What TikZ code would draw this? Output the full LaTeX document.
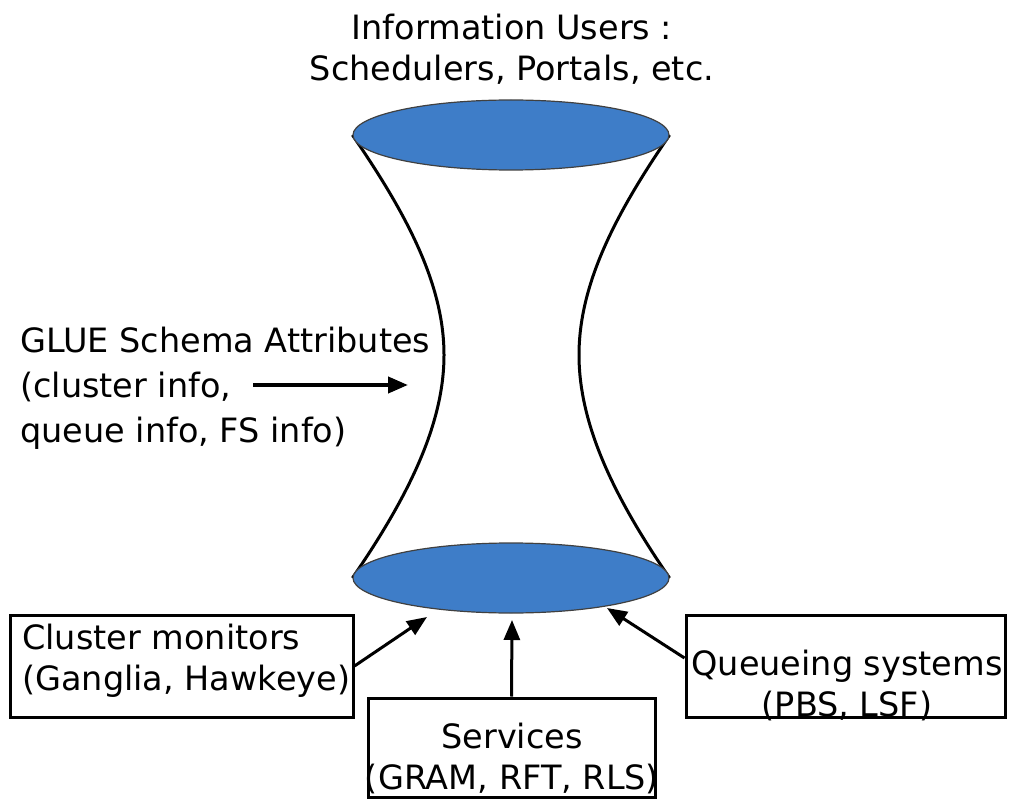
\documentclass[tikz,border=0pt]{standalone}
\usepackage{fontspec}
\setmainfont{DejaVu Sans}
\usetikzlibrary{arrows.meta,positioning,shapes.geometric,backgrounds}
\definecolor{poolblue}{RGB}{62,125,200}

\begin{document}
\begin{tikzpicture}[x=1pt, y=-1pt,
  txt/.style={font=\fontsize{33.5}{41}\selectfont, inner sep=0pt},
  frame/.style={draw, line width=3pt, inner sep=0pt},
  pool/.style={ellipse, draw=black!75, line width=1.2pt, fill=poolblue,
               minimum width=316pt, minimum height=70pt, inner sep=0pt},
  side/.style={line width=3pt},
  arr/.style={-{Triangle[length=20pt,width=16pt]}, line width=3pt}
]
\useasboundingbox (0,0) rectangle (1011,799);

%% ---- users on top ----
\node[txt, align=center] (users) at (512,49) {Information Users :\\Schedulers, Portals, etc.};

%% ---- hourglass ----
\node[pool] (top)    at (511,135) {};
\node[pool] (bottom) at (511,578) {};
\coordinate (waistL) at (444,355);
\coordinate (waistR) at (579,355);
\begin{scope}[on background layer]
  \draw[side] (top.west) .. controls +(55,80) and +(0,-70) .. (waistL)
                         .. controls +(0,70) and +(55,-80) .. (bottom.west);
  \draw[side] (top.east) .. controls +(-55,80) and +(0,-70) .. (waistR)
                         .. controls +(0,70) and +(-55,-80) .. (bottom.east);
\end{scope}

%% ---- schema attributes ----
\node[txt, font=\fontsize{33.5}{45}\selectfont, align=left, anchor=west] (glue) at (20,388)
  {GLUE Schema Attributes\\(cluster info,\\queue info, FS info)};
\coordinate (glueA) at (253,385);
\coordinate (glueB) at (408,385);
\draw[arr, line width=4pt] (glueA) -- (glueB);

%% ---- sources ----
\node[frame, minimum width=343pt, minimum height=102pt] (mon) at (181.5,666) {};
\node[txt, align=left, anchor=west] (montxt) at (22,661) {Cluster monitors\\(Ganglia, Hawkeye)};

\node[frame, minimum width=287pt, minimum height=99pt] (srv) at (511.5,747.5) {};
\node[txt, align=center] (srvtxt) at (512,758) {Services\\(GRAM, RFT, RLS)};

\node[frame, minimum width=319pt, minimum height=102pt] (qs) at (845.5,666) {};
\node[txt, align=center] (qstxt) at (847,685) {Queueing systems\\(PBS, LSF)};

%% arrows into the pool
\coordinate (inL) at (427,617);
\coordinate (inM) at (512,620);
\coordinate (inR) at (607,608);
\draw[arr] (mon.east) -- (inL);
\draw[arr] (srv.north) -- (inM);
\draw[arr] ([yshift=8pt]qs.west) -- (inR);

\end{tikzpicture}
\end{document}
